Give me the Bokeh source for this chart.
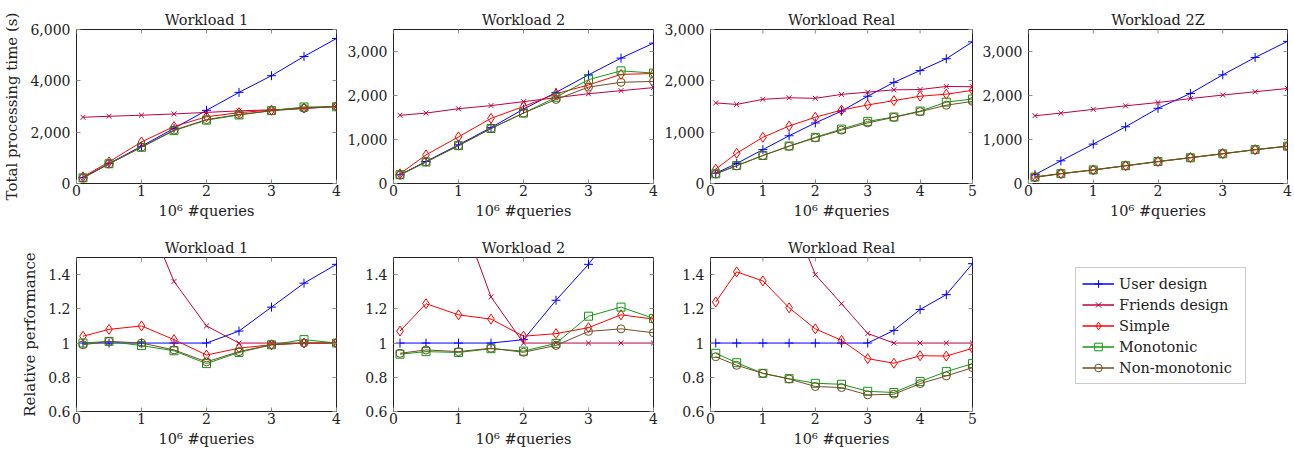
import math
from bokeh.plotting import figure
from bokeh.models import (Range1d, LinearAxis, FixedTicker, NumeralTickFormatter,
                          CustomJSTickFormatter, Legend, LegendItem, Title)
from bokeh.layouts import row, column
from bokeh.embed import file_html
from bokeh.resources import INLINE

# ---------------- data ----------------
series_names = ["User design", "Friends design", "Simple", "Monotonic", "Non-monotonic"]

x4 = [0.1, 0.5, 1, 1.5, 2, 2.5, 3, 3.5, 4]
x5 = [0.1, 0.5, 1, 1.5, 2, 2.5, 3, 3.5, 4, 4.5, 5]

# Total processing time (s)
w1_user = [230, 780, 1450, 2150, 2850, 3550, 4200, 4950, 5650]
w1_friends = [2580, 2620, 2660, 2710, 2770, 2830, 2870, 2920, 3000]
w1_simple = [260, 840, 1620, 2220, 2600, 2760, 2860, 2940, 3010]
w1_mono = [220, 770, 1410, 2060, 2470, 2670, 2840, 2980, 2990]
w1_nonmono = [210, 760, 1420, 2080, 2490, 2690, 2830, 2930, 3000]

w2_user = [200, 500, 880, 1270, 1690, 2070, 2470, 2850, 3190]
w2_friends = [1550, 1600, 1700, 1770, 1860, 1950, 2040, 2110, 2180]
w2_simple = [220, 650, 1060, 1480, 1750, 2040, 2240, 2480, 2500]
w2_mono = [200, 490, 860, 1250, 1600, 1960, 2360, 2560, 2510]
w2_nonmono = [190, 490, 860, 1250, 1600, 1910, 2190, 2300, 2320]

wr_user = [200, 390, 660, 930, 1180, 1410, 1700, 1970, 2200, 2430, 2760]
wr_friends = [1570, 1540, 1640, 1670, 1660, 1735, 1780, 1825, 1830, 1890, 1885]
wr_simple = [280, 590, 900, 1120, 1290, 1430, 1530, 1615, 1700, 1740, 1815]
wr_mono = [190, 350, 545, 730, 900, 1060, 1210, 1295, 1410, 1585, 1645]
wr_nonmono = [185, 345, 545, 725, 890, 1040, 1180, 1290, 1400, 1525, 1600]

wz_user = [200, 515, 895, 1290, 1710, 2045, 2470, 2865, 3230]
wz_friends = [1540, 1600, 1685, 1765, 1840, 1930, 2010, 2085, 2160]
wz_simple = [150, 225, 310, 405, 500, 590, 680, 770, 850]
wz_mono = [145, 225, 310, 405, 500, 585, 675, 770, 850]
wz_nonmono = [140, 220, 305, 400, 495, 585, 675, 765, 845]

# Relative performance
r1_user = [1, 1, 1, 1, 1, 1.07, 1.21, 1.35, 1.46]
r1_friends = [11.7, 3.36, 1.82, 1.36, 1.10, 1.0, 1.0, 1.0, 1.0]
r1_simple = [1.04, 1.08, 1.10, 1.02, 0.93, 0.97, 0.99, 1.0, 1.0]
r1_mono = [1.0, 1.01, 0.985, 0.955, 0.88, 0.945, 0.99, 1.02, 1.0]
r1_nonmono = [0.99, 1.01, 1.0, 0.96, 0.89, 0.95, 0.99, 1.0, 1.0]

r2_user = [1, 1, 1, 1, 1.02, 1.25, 1.46, 1.71, 1.95]
r2_friends = [7.75, 3.2, 1.79, 1.27, 1.0, 1, 1, 1, 1]
r2_simple = [1.07, 1.23, 1.165, 1.14, 1.04, 1.055, 1.09, 1.165, 1.14]
r2_mono = [0.935, 0.95, 0.945, 0.967, 0.953, 0.998, 1.157, 1.21, 1.144]
r2_nonmono = [0.94, 0.96, 0.95, 0.97, 0.946, 0.986, 1.068, 1.083, 1.06]

rr_user = [1, 1, 1, 1, 1, 1, 1, 1.074, 1.196, 1.283, 1.464]
rr_friends = [7.85, 3.95, 2.48, 1.785, 1.40, 1.23, 1.056, 1, 1, 1, 1]
rr_simple = [1.24, 1.416, 1.363, 1.206, 1.083, 1.016, 0.909, 0.882, 0.926, 0.924, 0.969]
rr_mono = [0.94, 0.885, 0.823, 0.792, 0.765, 0.759, 0.718, 0.711, 0.775, 0.833, 0.88]
rr_nonmono = [0.92, 0.87, 0.823, 0.79, 0.746, 0.74, 0.697, 0.701, 0.763, 0.808, 0.856]

time_ticks_6000 = [0, 2000, 4000, 6000]
time_ticks_3000 = [0, 1000, 2000, 3000]
rel_ticks = [0.6, 0.8, 1, 1.2, 1.4]
x_label = "10\u2076 #queries"

# ---------------- styles ----------------
FONT = "DejaVu Serif"
COLORS = ["#0000ff", "#bf0040", "#ff0000", "#119911", "#734d26"]
MARKERS = ["cross", "x", "diamond", "square", "circle"]
SIZES = [9, 7, 10, 8, 8]
TICK_COLOR = "#8c8c8c"
TEXT_COLOR = "#222222"


def make_fig(title, xs, ys_list, xmax, yrange, yticks, fmt, ylabel,
             bl, fw, br, bt, bb, xticks):
    p = figure(frame_width=fw, frame_height=154,
               x_range=Range1d(0, xmax), y_range=Range1d(*yrange),
               output_backend="svg", toolbar_location=None, title_location=None,
               min_border_left=bl, min_border_right=br,
               min_border_top=bt, min_border_bottom=bb)
    p.background_fill_color = "white"
    p.border_fill_color = "white"
    p.outline_line_color = "#222222"
    p.outline_line_width = 1
    p.grid.visible = False

    for ax in (p.xaxis[0], p.yaxis[0]):
        ax.axis_line_color = None
        ax.major_tick_in = 4
        ax.major_tick_out = 0
        ax.major_tick_line_color = TICK_COLOR
        ax.minor_tick_line_color = None
        ax.major_label_text_font = FONT
        ax.major_label_text_font_size = "14px"
        ax.major_label_text_color = TEXT_COLOR
        ax.axis_label_text_font = FONT
        ax.axis_label_text_font_size = "14.5px"
        ax.axis_label_text_font_style = "normal"
        ax.axis_label_text_color = TEXT_COLOR
    p.xaxis[0].ticker = FixedTicker(ticks=xticks)
    p.xaxis[0].major_label_standoff = 1
    p.xaxis[0].axis_label = x_label
    p.xaxis[0].axis_label_standoff = 4
    p.yaxis[0].ticker = FixedTicker(ticks=yticks)
    p.yaxis[0].formatter = fmt
    p.yaxis[0].major_label_standoff = 6
    if ylabel:
        p.yaxis[0].axis_label = ylabel
        p.yaxis[0].axis_label_text_font_size = "15px"
        p.yaxis[0].axis_label_standoff = 6

    blank = CustomJSTickFormatter(code="return ''")
    right_ax = LinearAxis(ticker=FixedTicker(ticks=yticks), formatter=blank,
                          axis_line_color=None, major_tick_in=4, major_tick_out=0,
                          major_tick_line_color=TICK_COLOR, minor_tick_line_color=None,
                          major_label_standoff=0, major_label_text_font_size="1px")
    p.add_layout(right_ax, "right")
    # mirrored tick marks on the top edge (half of each dash is clipped by the frame)
    p.scatter(x=xticks, y=[yrange[1]] * len(xticks), marker="dash", angle=math.pi / 2,
              size=8, line_color=TICK_COLOR, line_width=1)
    p.add_layout(Title(text=title, text_font=FONT, text_font_size="14.5px",
                       text_font_style="normal", align="center", vertical_align="middle",
                       standoff=2, text_color=TEXT_COLOR), "above")

    for ys, c, m, s in zip(ys_list, COLORS, MARKERS, SIZES):
        p.line(xs, ys, line_color=c, line_width=1)
        p.scatter(xs, ys, marker=m, size=s, line_color=c, fill_color=None, line_width=1)
    return p


tfmt = NumeralTickFormatter(format="0,0")
rfmt = NumeralTickFormatter(format="0.[0]")
xt4 = [0, 1, 2, 3, 4]
xt5 = [0, 1, 2, 3, 4, 5]

TOP_BT, TOP_BB = 29, 47
BOT_BT, BOT_BB = 27, 41

t1 = make_fig("Workload 1", x4, [w1_user, w1_friends, w1_simple, w1_mono, w1_nonmono],
              4, (0, 6000), time_ticks_6000, tfmt, "Total processing time (s)",
              76, 260, 7, TOP_BT, TOP_BB, xt4)
t2 = make_fig("Workload 2", x4, [w2_user, w2_friends, w2_simple, w2_mono, w2_nonmono],
              4, (0, 3500), time_ticks_3000, tfmt, None, 50, 260, 7, TOP_BT, TOP_BB, xt4)
t3 = make_fig("Workload Real", x5, [wr_user, wr_friends, wr_simple, wr_mono, wr_nonmono],
              5, (0, 3000), time_ticks_3000, tfmt, None, 50, 262, 6, TOP_BT, TOP_BB, xt5)
t4 = make_fig("Workload 2Z", x4, [wz_user, wz_friends, wz_simple, wz_mono, wz_nonmono],
              4, (0, 3500), time_ticks_3000, tfmt, None, 50, 259, 6, TOP_BT, TOP_BB, xt4)

b1 = make_fig("Workload 1", x4, [r1_user, r1_friends, r1_simple, r1_mono, r1_nonmono],
              4, (0.6, 1.5), rel_ticks, rfmt, "Relative performance",
              76, 260, 7, BOT_BT, BOT_BB, xt4)
b2 = make_fig("Workload 2", x4, [r2_user, r2_friends, r2_simple, r2_mono, r2_nonmono],
              4, (0.6, 1.5), rel_ticks, rfmt, None, 50, 260, 7, BOT_BT, BOT_BB, xt4)
b3 = make_fig("Workload Real", x5, [rr_user, rr_friends, rr_simple, rr_mono, rr_nonmono],
              5, (0.6, 1.5), rel_ticks, rfmt, None, 50, 262, 6, BOT_BT, BOT_BB, xt5)

# legend panel: its frame lines up with the bottom-row frames; legend placed from frame bottom-left
lg = figure(frame_width=315, frame_height=154, output_backend="svg", toolbar_location=None,
            x_range=Range1d(0, 1), y_range=Range1d(0, 1), title_location=None,
            x_axis_location=None, y_axis_location=None,
            min_border_left=0, min_border_right=0,
            min_border_top=BOT_BT, min_border_bottom=BOT_BB)
lg.grid.visible = False
lg.outline_line_color = None
lg.background_fill_color = "white"
lg.border_fill_color = "white"
nan = float("nan")
items = []
for name, c, m, s in zip(series_names, COLORS, MARKERS, SIZES):
    lr = lg.line(x=[nan], y=[nan], line_color=c, line_width=1.5)
    sr = lg.scatter(x=[nan], y=[nan], marker=m, size=s, line_color=c, fill_color=None)
    items.append(LegendItem(label=name, renderers=[lr, sr]))
legend = Legend(items=items, location=(97, 27),
                label_text_font=FONT, label_text_font_size="14.5px",
                label_text_color=TEXT_COLOR,
                label_height=19, glyph_height=19, glyph_width=32, label_width=120,
                label_standoff=5, spacing=2, padding=6, margin=0,
                border_line_color="#999999", border_line_width=1,
                background_fill_color="white", background_fill_alpha=1)
lg.add_layout(legend)

layout = column(row(t1, t2, t3, t4, spacing=0), row(b1, b2, b3, lg, spacing=0), spacing=0)

open("out.html", "w").write(file_html(layout, INLINE))
